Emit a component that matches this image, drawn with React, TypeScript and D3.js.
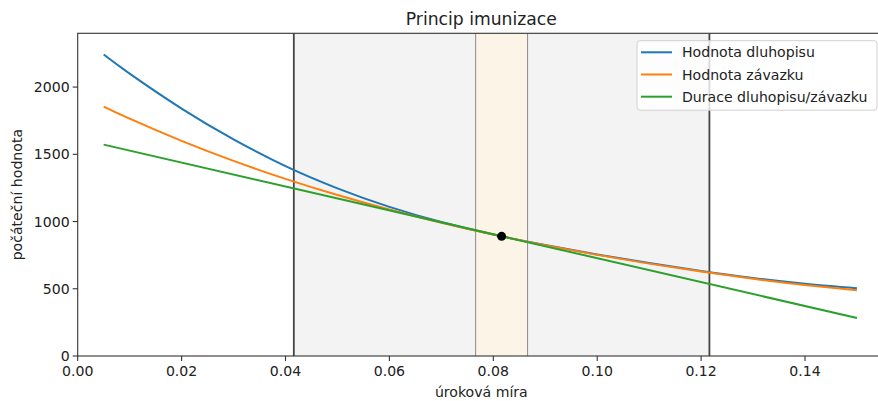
import React from "react";
import * as d3 from "d3";

const rates = [0.005, 0.01, 0.02, 0.03, 0.04, 0.05, 0.06, 0.07, 0.08, 0.09, 0.1, 0.11, 0.12, 0.13, 0.14, 0.15];
const bondValues = [2242, 2100, 1840, 1611, 1412, 1247, 1109, 996, 903, 825, 755, 691, 633, 581, 538, 504];
const liabilityValues = [1855, 1765, 1600, 1451, 1317, 1197, 1089, 991, 903, 824, 752, 687, 628, 574, 528, 489];
const durationRates = [0.005, 0.15];
const durationValues = [1572, 283];
const pointRate = 0.0816;
const pointValue = 890;
const outerBand = [0.0416, 0.1216];
const innerBand = [0.0766, 0.0866];
const xTicks = [0, 0.02, 0.04, 0.06, 0.08, 0.1, 0.12, 0.14];
const yTicks = [0, 500, 1000, 1500, 2000];
const seriesNames = ["Hodnota dluhopisu", "Hodnota závazku", "Durace dluhopisu/závazku"];
const seriesColors = ["#1f77b4", "#ff7f0e", "#2ca02c"];

const W = 878;
const H = 401;
const left = 77.7;
const right = 885;
const top = 33.3;
const bottom = 356;
const font = "DejaVu Sans, sans-serif";

export default function App() {
  const x = d3.scaleLinear().domain([0, (right - left) / 5195]).range([left, right]);
  const y = d3.scaleLinear().domain([0, 2400]).range([bottom, top]);
  const line = d3
    .line<[number, number]>()
    .x((d) => x(d[0]))
    .y((d) => y(d[1]))
    .curve(d3.curveNatural);
  const straight = d3
    .line<[number, number]>()
    .x((d) => x(d[0]))
    .y((d) => y(d[1]));

  const bond = rates.map((r, i) => [r, bondValues[i]] as [number, number]);
  const liab = rates.map((r, i) => [r, liabilityValues[i]] as [number, number]);
  const dur = durationRates.map((r, i) => [r, durationValues[i]] as [number, number]);
  const fs = 14.1;
  const cx = (left + right) / 2;

  return (
    <div style={{ position: "absolute", left: 0, top: 0 }}>
      <svg width={W} height={H} style={{ display: "block", background: "#fff" }} fontFamily={font}>
        <defs>
          <clipPath id="plot">
            <rect x={left} y={top} width={right - left} height={bottom - top} />
          </clipPath>
        </defs>
        <g clipPath="url(#plot)">
          <rect x={x(outerBand[0])} y={top} width={x(outerBand[1]) - x(outerBand[0])} height={bottom - top} fill="#f3f3f3" />
          <rect x={x(innerBand[0])} y={top} width={x(innerBand[1]) - x(innerBand[0])} height={bottom - top} fill="#fcf4e6" />
          {innerBand.map((v, i) => (
            <line key={"ib" + i} x1={x(v)} x2={x(v)} y1={top} y2={bottom} stroke="#8a8a8a" strokeWidth={1} />
          ))}
          {outerBand.map((v, i) => (
            <line key={"ob" + i} x1={x(v)} x2={x(v)} y1={top} y2={bottom} stroke="#444" strokeWidth={1.8} />
          ))}
          <path d={line(bond) || ""} fill="none" stroke={seriesColors[0]} strokeWidth={2} />
          <path d={line(liab) || ""} fill="none" stroke={seriesColors[1]} strokeWidth={2} />
          <path d={straight(dur) || ""} fill="none" stroke={seriesColors[2]} strokeWidth={2} />
          <circle cx={x(pointRate)} cy={y(pointValue)} r={4.5} fill="#000" />
        </g>
        <rect x={left} y={top} width={right - left} height={bottom - top} fill="none" stroke="#333" strokeWidth={1.1} />
        {xTicks.map((t) => (
          <g key={"xt" + t}>
            <line x1={x(t)} x2={x(t)} y1={bottom} y2={bottom + 5} stroke="#333" strokeWidth={1.1} />
            <text x={x(t)} y={bottom + 19.5} textAnchor="middle" fontSize={fs} fill="#222">
              {t.toFixed(2)}
            </text>
          </g>
        ))}
        {yTicks.map((t) => (
          <g key={"yt" + t}>
            <line x1={left - 5} x2={left} y1={y(t)} y2={y(t)} stroke="#333" strokeWidth={1.1} />
            <text x={left - 8} y={y(t) + 5} textAnchor="end" fontSize={fs} fill="#222">
              {t}
            </text>
          </g>
        ))}
        <text x={cx} y={25} textAnchor="middle" fontSize={17.2} fill="#222">
          Princip imunizace
        </text>
        <text x={cx} y={397} textAnchor="middle" fontSize={fs} fill="#222">
          úroková míra
        </text>
        <text
          transform={`translate(${22},${(top + bottom) / 2}) rotate(-90)`}
          textAnchor="middle"
          fontSize={fs}
          fill="#222"
        >
          počáteční hodnota
        </text>
        <g>
          <rect x={637} y={40.7} width={240} height={69.5} rx={3} fill="#fff" fillOpacity={0.8} stroke="#d0d0d0" strokeWidth={1} />
          {seriesNames.map((n, i) => (
            <g key={n}>
              <line x1={641} x2={672} y1={52.3 + i * 22.2} y2={52.3 + i * 22.2} stroke={seriesColors[i]} strokeWidth={2} />
              <text x={682} y={52.3 + i * 22.2 + 5} fontSize={fs} fill="#222">
                {n}
              </text>
            </g>
          ))}
        </g>
      </svg>
    </div>
  );
}
